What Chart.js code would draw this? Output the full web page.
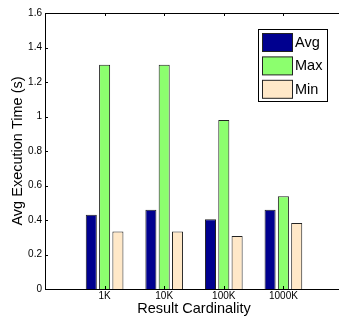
<!DOCTYPE html>
<html>
<head>
<meta charset="utf-8">
<script src="https://cdn.jsdelivr.net/npm/chart.js@4.4.0/dist/chart.umd.min.js"></script>
<style>
  html, body { margin: 0; padding: 0; background: #fff; overflow: hidden; width: 339px; height: 320px; }
  #wrap { width: 350px; height: 320px; }
</style>
</head>
<body>
<div id="wrap"><canvas id="c" width="350" height="320"></canvas></div>
<script>
// ---- data ----
const categories = ['1K', '10K', '100K', '1000K'];
const avgValues = [0.43, 0.46, 0.405, 0.46];
const maxValues = [1.30, 1.30, 0.98, 0.537];
const minValues = [0.333, 0.333, 0.307, 0.383];
const yTickValues = [0, 0.2, 0.4, 0.6, 0.8, 1, 1.2, 1.4, 1.6];
const seriesNames = ['Avg', 'Max', 'Min'];
const seriesColors = ['#00008f', '#8cff6e', '#ffe8c8'];

// pad the category axis with empty slots so categories sit at 1..4 on a 0..5 range
const xLabels = [''].concat(categories, ['']);
const pad = arr => [null].concat(arr, [null]);

const FONT = "'Liberation Sans', Arial, Helvetica, sans-serif";

const frameAndTicks = {
  id: 'frameAndTicks',
  afterDatasetsDraw(chart) {
    const { ctx, chartArea: a, scales: { x, y } } = chart;
    ctx.save();
    ctx.strokeStyle = '#000';
    ctx.lineWidth = 1;
    ctx.beginPath();
    ctx.moveTo(a.left, a.top + 0.5);
    ctx.lineTo(a.right, a.top + 0.5);
    categories.forEach((c, i) => {
      const px = Math.round(x.getPixelForValue(i + 1)) + 0.5;
      ctx.moveTo(px, a.bottom);
      ctx.lineTo(px, a.bottom - 3);
      ctx.moveTo(px, a.top);
      ctx.lineTo(px, a.top + 3);
    });
    yTickValues.forEach(v => {
      const py = Math.round(y.getPixelForValue(v)) + 0.5;
      ctx.moveTo(a.left, py);
      ctx.lineTo(a.left + 3, py);
    });
    ctx.stroke();
    ctx.restore();
  }
};

const boxLegend = {
  id: 'boxLegend',
  afterDraw(chart) {
    const { ctx } = chart;
    const bx = 258.5, by = 29.5, bw = 69, bh = 72;
    ctx.save();
    ctx.fillStyle = '#fff';
    ctx.fillRect(bx, by, bw, bh);
    ctx.strokeStyle = '#000';
    ctx.lineWidth = 1;
    ctx.strokeRect(bx, by, bw, bh);
    ctx.font = '14.5px ' + FONT;
    ctx.textBaseline = 'middle';
    ctx.textAlign = 'left';
    chart.data.datasets.forEach((ds, i) => {
      const sy = by + 4 + i * 23.4;
      ctx.fillStyle = ds.backgroundColor;
      ctx.fillRect(bx + 4, sy, 30, 18);
      ctx.strokeStyle = '#222';
      ctx.strokeRect(bx + 4, sy, 30, 18);
      ctx.fillStyle = '#000';
      ctx.fillText(ds.label, bx + 36.5, sy + 9.5);
    });
    ctx.restore();
  }
};

const datasets = [avgValues, maxValues, minValues].map((vals, i) => ({
  label: seriesNames[i],
  data: pad(vals),
  backgroundColor: seriesColors[i],
  borderColor: '#222',
  borderWidth: 1,
  categoryPercentage: 0.67,
  barPercentage: 0.83
}));

new Chart(document.getElementById('c'), {
  type: 'bar',
  data: { labels: xLabels, datasets },
  options: {
    responsive: false,
    animation: false,
    layout: { padding: { left: 0, right: 7, top: 13, bottom: 0 } },
    plugins: { legend: { display: false }, tooltip: { enabled: false } },
    scales: {
      x: {
        type: 'category',
        offset: false,
        grid: { display: false, drawTicks: false },
        border: { display: true, color: '#000', width: 1 },
        ticks: { color: '#000', font: { family: FONT, size: 10 }, padding: 1, autoSkip: false, maxRotation: 0 },
        title: { display: true, text: 'Result Cardinality', color: '#000',
                 font: { family: FONT, size: 14.5, lineHeight: 1.2 }, padding: { top: 0, bottom: 2.3 } },
        afterFit(s) { s.height = 31; }
      },
      y: {
        min: 0, max: 1.6,
        grid: { display: false, drawTicks: false },
        border: { display: true, color: '#000', width: 1 },
        afterBuildTicks(s) { s.ticks = yTickValues.map(v => ({ value: v })); },
        ticks: { color: '#000', font: { family: FONT, size: 10 }, padding: 3,
                 callback: v => String(v) },
        title: { display: true, text: 'Avg Execution Time (s)', color: '#000',
                 font: { family: FONT, size: 14.5, lineHeight: 1.2 }, padding: { top: 9.3, bottom: 0 } },
        afterFit(s) { s.width = 45; }
      }
    }
  },
  plugins: [frameAndTicks, boxLegend]
});
</script>
</body>
</html>
